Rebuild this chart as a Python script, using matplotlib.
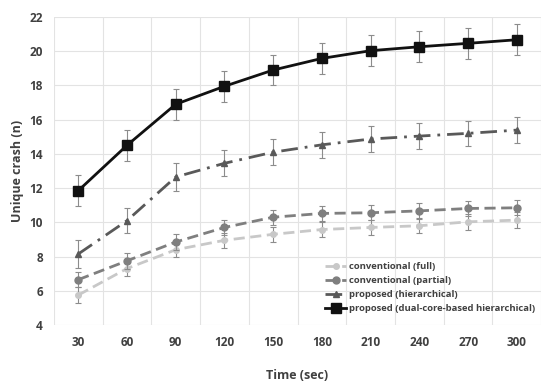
import numpy as np
import matplotlib
matplotlib.use("Agg")
import matplotlib.pyplot as plt

plt.rcParams['font.family'] = ['Open Sans', 'DejaVu Sans']

# =========================
# DATA
# =========================
times = ["30", "60", "90", "120", "150", "180", "210", "240", "270", "300"]

conv_full = [5.75, 7.3, 8.4, 8.95, 9.3, 9.58, 9.7, 9.8, 10.03, 10.13]
conv_full_err = [0.45, 0.45, 0.4, 0.45, 0.45, 0.45, 0.45, 0.45, 0.45, 0.45]

conv_partial = [6.65, 7.75, 8.85, 9.7, 10.3, 10.52, 10.56, 10.67, 10.81, 10.85]
conv_partial_err = [0.45, 0.45, 0.45, 0.45, 0.45, 0.45, 0.45, 0.45, 0.45, 0.45]

hier = [8.15, 10.1, 12.65, 13.45, 14.1, 14.53, 14.87, 15.04, 15.2, 15.39]
hier_err = [0.8, 0.75, 0.8, 0.75, 0.75, 0.75, 0.75, 0.75, 0.75, 0.75]

dual = [11.85, 14.5, 16.9, 17.95, 18.9, 19.58, 20.03, 20.26, 20.46, 20.67]
dual_err = [0.9, 0.9, 0.9, 0.9, 0.9, 0.9, 0.9, 0.9, 0.9, 0.9]

labels = [
    "conventional (full)",
    "conventional (partial)",
    "proposed (hierarchical)",
    "proposed (dual-core-based hierarchical)",
]

# =========================
# PLOT
# =========================
fig, ax = plt.subplots(figsize=(5.5, 3.86), dpi=100)
fig.subplots_adjust(left=0.098, right=0.984, top=0.956, bottom=0.158)

x = np.arange(len(times))

series = [
    (conv_full, conv_full_err, "#c8c8c8", (0, (4, 2)), "o", 4),
    (conv_partial, conv_partial_err, "#7f7f7f", (0, (4, 2)), "o", 5),
    (hier, hier_err, "#595959", (0, (6, 2.5, 1, 2.5)), "^", 5),
    (dual, dual_err, "#111111", "-", "s", 7),
]

handles = []
for (vals, err, col, ls, mk, ms), lab in zip(series, labels):
    ax.errorbar(
        x, vals, yerr=err, fmt="none",
        ecolor="#8c8c8c", elinewidth=0.8, capsize=2, capthick=0.8
    )
    h, = ax.plot(
        x, vals,
        color=col, linestyle=ls, linewidth=2,
        marker=mk, markersize=ms, label=lab
    )
    handles.append(h)

ax.set_xlim(-0.5, len(times) - 0.5)
ax.set_ylim(4, 22)
ax.set_yticks(range(4, 23, 2))
ax.set_xticks(x)
ax.set_xticklabels(times)

# gridlines between categories
ax.set_xticks(np.arange(-0.5, len(times), 1), minor=True)
ax.grid(True, which="minor", axis="x", color="#e3e3e3", linewidth=0.8)
ax.grid(True, which="major", axis="y", color="#e3e3e3", linewidth=0.8)
ax.set_axisbelow(True)

for side in ["top", "right", "left", "bottom"]:
    ax.spines[side].set_visible(False)

ax.tick_params(which="both", length=0, pad=8)
ax.tick_params(axis="both", labelsize=8.5, labelcolor="#404040")
for t in ax.get_xticklabels() + ax.get_yticklabels():
    t.set_fontweight("bold")

ax.set_xlabel("Time (sec)", fontsize=9, fontweight="bold", color="#404040", labelpad=14)
ax.set_ylabel("Unique crash (n)", fontsize=9, fontweight="bold", color="#404040")

leg = ax.legend(
    handles=handles,
    loc="lower right", frameon=False, fontsize=6.8,
    handlelength=2.2, handletextpad=0.3, labelspacing=0.55,
    bbox_to_anchor=(1.005, 0.01)
)
for t in leg.get_texts():
    t.set_fontweight("bold")
    t.set_color("#404040")

plt.savefig("out.png", dpi=100)
